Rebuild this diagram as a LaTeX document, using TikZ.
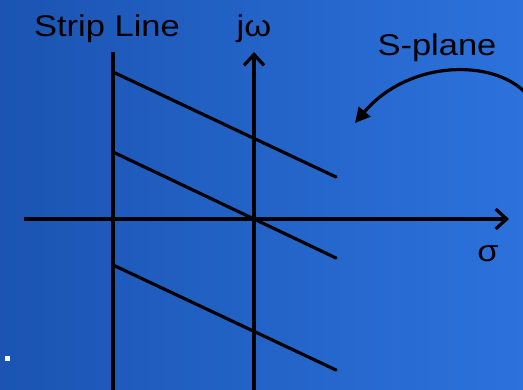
\documentclass[tikz,border=0pt]{standalone}
\usepackage{graphicx}
\usepackage{fontspec}
\setmainfont{Liberation Sans}
\usetikzlibrary{arrows.meta}

\definecolor{bgleft}{RGB}{27,84,178}
\definecolor{bgright}{RGB}{44,114,220}

\tikzset{
  axisline/.style = {line width = 3.2pt, -{Straight Barb[length = 11pt, width = 20pt, line width = 3.2pt]}},
  stripline/.style = {line width = 3.2pt},
  plabel/.style = {font = \fontsize{30}{36}\selectfont, inner sep = 0pt, anchor = base}
}

\begin{document}
\begin{tikzpicture}[x = 1pt, y = -1pt]
\useasboundingbox (0,0) rectangle (523,390);
\shade[left color = bgleft, right color = bgright] (0,0) rectangle (523,390);
\fill[white] (5,356.5) rectangle (10,361.5);

% axes
\coordinate (O) at (254,219);
\coordinate (sigmaL) at (24,219);
\coordinate (sigmaR) at (509,219);
\coordinate (omegaB) at (254,392);
\coordinate (omegaT) at (254,52);
\draw[axisline] (sigmaL) -- (sigmaR);
\draw[axisline] (omegaB) -- (omegaT);

% strip line and the slanted lines
\coordinate (stripT) at (113,52);
\coordinate (stripB) at (113,392);
\draw[stripline] (stripT) -- (stripB);
\foreach \k / \ya / \yb in {1/72/177, 2/152/258, 3/265/370}
{
  \coordinate (s\k) at (113,\ya);
  \coordinate (e\k) at (336,\yb);
  \draw[stripline, line cap = round] (s\k) -- (e\k);
}

% labels
\node[plabel] (strip) at (107,37) {\scalebox{1.15}[1]{Strip Line}};
\node[plabel] (jw) at (254,37) {\scalebox{1.15}[1]{jω}};
\node[plabel] (sigma) at (488,262) {\scalebox{1.15}[1]{σ}};
\node[plabel] (splane) at (437,56) {\scalebox{1.15}[1]{S-plane}};

% pointer from the s-plane label
\coordinate (arcS) at (530,98);
\coordinate (arcE) at (355,123);
\draw[line width = 3.2pt, -{Triangle[length = 15pt, width = 15pt]}]
  (arcS) .. controls (500,58) and (410,58) .. (arcE);
\end{tikzpicture}
\end{document}
